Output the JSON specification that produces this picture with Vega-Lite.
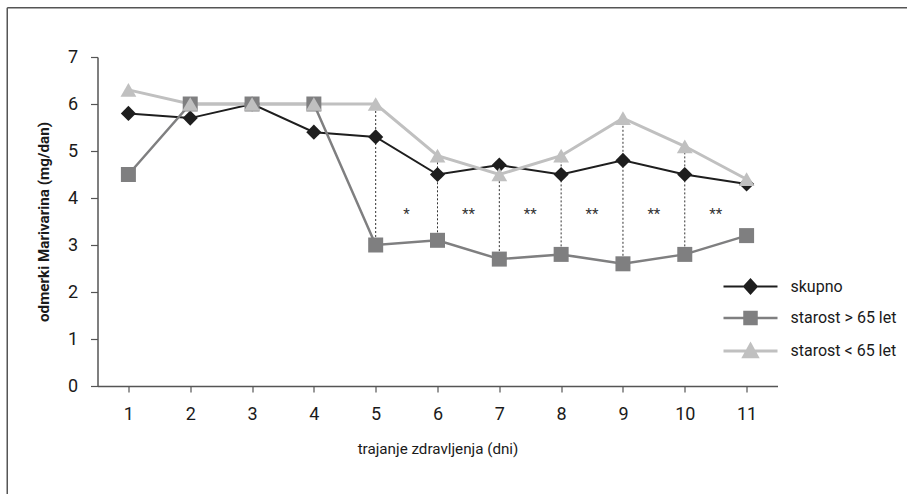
{
  "$schema": "https://vega.github.io/schema/vega-lite/v6.json",
  "width": 680,
  "height": 329,
  "autosize": {"type": "none"},
  "padding": {"left": 97.5, "top": 57, "right": 129.5, "bottom": 108},
  "background": "white",
  "config": {
    "view": {"stroke": null},
    "font": "Roboto",
    "axis": {
      "grid": false,
      "domainColor": "#555555",
      "domainWidth": 1.5,
      "tickColor": "#555555",
      "tickWidth": 1.2,
      "labelColor": "#1a1a1a",
      "titleColor": "#1a1a1a",
      "labelFont": "Roboto",
      "titleFont": "Roboto"
    }
  },
  "datasets": {
    "main": [
      {"day": 1, "series": "skupno", "value": 5.8},
      {"day": 2, "series": "skupno", "value": 5.7},
      {"day": 3, "series": "skupno", "value": 6.0},
      {"day": 4, "series": "skupno", "value": 5.4},
      {"day": 5, "series": "skupno", "value": 5.3},
      {"day": 6, "series": "skupno", "value": 4.5},
      {"day": 7, "series": "skupno", "value": 4.7},
      {"day": 8, "series": "skupno", "value": 4.5},
      {"day": 9, "series": "skupno", "value": 4.8},
      {"day": 10, "series": "skupno", "value": 4.5},
      {"day": 11, "series": "skupno", "value": 4.3},
      {"day": 1, "series": "starost > 65 let", "value": 4.5},
      {"day": 2, "series": "starost > 65 let", "value": 6.0},
      {"day": 3, "series": "starost > 65 let", "value": 6.0},
      {"day": 4, "series": "starost > 65 let", "value": 6.0},
      {"day": 5, "series": "starost > 65 let", "value": 3.0},
      {"day": 6, "series": "starost > 65 let", "value": 3.1},
      {"day": 7, "series": "starost > 65 let", "value": 2.7},
      {"day": 8, "series": "starost > 65 let", "value": 2.8},
      {"day": 9, "series": "starost > 65 let", "value": 2.6},
      {"day": 10, "series": "starost > 65 let", "value": 2.8},
      {"day": 11, "series": "starost > 65 let", "value": 3.2},
      {"day": 1, "series": "starost < 65 let", "value": 6.3},
      {"day": 2, "series": "starost < 65 let", "value": 6.0},
      {"day": 3, "series": "starost < 65 let", "value": 6.0},
      {"day": 4, "series": "starost < 65 let", "value": 6.0},
      {"day": 5, "series": "starost < 65 let", "value": 6.0},
      {"day": 6, "series": "starost < 65 let", "value": 4.9},
      {"day": 7, "series": "starost < 65 let", "value": 4.5},
      {"day": 8, "series": "starost < 65 let", "value": 4.9},
      {"day": 9, "series": "starost < 65 let", "value": 5.7},
      {"day": 10, "series": "starost < 65 let", "value": 5.1},
      {"day": 11, "series": "starost < 65 let", "value": 4.4}
    ],
    "stars": [
      {"pos": 5.5, "level": 3.66, "mark": "*"},
      {"pos": 6.5, "level": 3.66, "mark": "**"},
      {"pos": 7.5, "level": 3.66, "mark": "**"},
      {"pos": 8.5, "level": 3.66, "mark": "**"},
      {"pos": 9.5, "level": 3.66, "mark": "**"},
      {"pos": 10.5, "level": 3.66, "mark": "**"}
    ],
    "frame": [{"left": -0.96, "right": 13.6, "top": 8.05, "bottom": -2.3}]
  },
  "encoding": {
    "x": {
      "type": "quantitative",
      "scale": {"domain": [0.5, 11.5], "nice": false, "zero": false}
    },
    "y": {
      "type": "quantitative",
      "scale": {"domain": [0, 7], "nice": false}
    }
  },
  "layer": [
    {
      "data": {"name": "frame"},
      "mark": {"type": "rule", "color": "#555555", "strokeWidth": 1.5, "clip": false},
      "encoding": {
        "x": {"field": "left", "type": "quantitative"},
        "x2": {"field": "right"},
        "y": {"field": "top", "type": "quantitative"}
      }
    },
    {
      "data": {"name": "frame"},
      "mark": {"type": "rule", "color": "#555555", "strokeWidth": 1.5, "clip": false},
      "encoding": {
        "x": {"field": "left", "type": "quantitative"},
        "y": {"field": "top", "type": "quantitative"},
        "y2": {"field": "bottom"}
      }
    },
    {
      "data": {"name": "main"},
      "transform": [
        {"pivot": "series", "value": "value", "groupby": ["day"]},
        {"filter": "datum.day >= 5 && datum.day <= 10"}
      ],
      "mark": {"type": "rule", "color": "#333333", "strokeWidth": 1, "strokeDash": [2, 2]},
      "encoding": {
        "x": {"field": "day", "type": "quantitative"},
        "y": {"field": "starost > 65 let", "type": "quantitative"},
        "y2": {"field": "starost < 65 let"}
      }
    },
    {
      "data": {"name": "stars"},
      "mark": {"type": "text", "fontSize": 15, "color": "#333333", "font": "Roboto", "baseline": "middle"},
      "encoding": {
        "x": {"field": "pos", "type": "quantitative"},
        "y": {"field": "level", "type": "quantitative"},
        "text": {"field": "mark"}
      }
    },
    {
      "data": {"name": "main"},
      "mark": {"type": "line"},
      "encoding": {
        "x": {
          "field": "day",
          "type": "quantitative",
          "axis": {
            "values": [1, 2, 3, 4, 5, 6, 7, 8, 9, 10, 11],
            "format": "d",
            "title": "trajanje zdravljenja (dni)",
            "labelFontSize": 18,
            "labelPadding": 13,
            "tickSize": 6,
            "titleFontSize": 15.2,
            "titleFontWeight": "normal",
            "titlePadding": 18
          }
        },
        "y": {
          "field": "value",
          "type": "quantitative",
          "axis": {
            "values": [0, 1, 2, 3, 4, 5, 6, 7],
            "title": "odmerki Marivarina (mg/dan)",
            "labelFontSize": 18,
            "labelPadding": 13,
            "tickSize": 7,
            "titleFontSize": 15.2,
            "titleFontWeight": "bold",
            "titlePadding": 16
          }
        },
        "color": {
          "field": "series",
          "type": "nominal",
          "scale": {
            "domain": ["skupno", "starost > 65 let", "starost < 65 let"],
            "range": ["#1e1e1e", "#7f7f80", "#c0c0c0"]
          }
        },
        "strokeWidth": {
          "field": "series",
          "type": "nominal",
          "scale": {
            "domain": ["skupno", "starost > 65 let", "starost < 65 let"],
            "range": [2, 3, 3]
          },
          "legend": null
        }
      }
    },
    {
      "data": {"name": "main"},
      "mark": {"type": "point", "filled": true, "opacity": 0},
      "encoding": {
        "x": {"field": "day", "type": "quantitative"},
        "y": {"field": "value", "type": "quantitative"},
        "color": {
          "field": "series",
          "type": "nominal",
          "legend": {
            "title": null,
            "orient": "none",
            "legendX": 644,
            "legendY": 221,
            "padding": 0,
            "symbolSize": 225,
            "symbolStrokeWidth": 2.5,
            "symbolOpacity": 1,
            "labelOffset": 31,
            "labelFontSize": 16,
            "labelColor": "#1a1a1a",
            "labelFont": "Roboto",
            "rowPadding": 9
          }
        },
        "shape": {
          "field": "series",
          "type": "nominal",
          "scale": {
            "domain": ["skupno", "starost > 65 let", "starost < 65 let"],
            "range": [
              "M-3.6,0H3.6M-0.85,0L0,-0.95L0.85,0L0,0.95ZM-0.62,0L0,-0.7L0.62,0L0,0.7ZM-0.4,0L0,-0.45L0.4,0L0,0.45ZM-0.18,0L0,-0.2L0.18,0L0,0.2Z",
              "M-3.6,0H3.6M-0.8,-0.8H0.8V0.8H-0.8ZM-0.58,-0.58H0.58V0.58H-0.58ZM-0.36,-0.36H0.36V0.36H-0.36ZM-0.14,-0.14H0.14V0.14H-0.14Z",
              "M-3.6,0H3.6M0,-0.86L0.89,0.755L-0.89,0.755ZM0,-0.569L0.651,0.61L-0.651,0.61ZM0,-0.29L0.42,0.47L-0.42,0.47ZM0,-0.011L0.189,0.331L-0.189,0.331Z"
            ]
          }
        }
      }
    },
    {
      "data": {"name": "main"},
      "transform": [{"filter": "datum.series === 'skupno'"}],
      "mark": {"type": "point", "filled": true, "opacity": 1, "size": 230, "shape": "diamond"},
      "encoding": {
        "x": {"field": "day", "type": "quantitative"},
        "y": {"field": "value", "type": "quantitative"},
        "color": {"field": "series", "type": "nominal", "legend": null}
      }
    },
    {
      "data": {"name": "main"},
      "transform": [{"filter": "datum.series === 'starost > 65 let'"}],
      "mark": {"type": "point", "filled": true, "opacity": 1, "size": 225, "shape": "square"},
      "encoding": {
        "x": {"field": "day", "type": "quantitative"},
        "y": {"field": "value", "type": "quantitative"},
        "color": {"field": "series", "type": "nominal", "legend": null}
      }
    },
    {
      "data": {"name": "main"},
      "transform": [{"filter": "datum.series === 'starost < 65 let'"}],
      "mark": {"type": "point", "filled": true, "opacity": 1, "size": 250, "shape": "triangle-up"},
      "encoding": {
        "x": {"field": "day", "type": "quantitative"},
        "y": {"field": "value", "type": "quantitative"},
        "color": {"field": "series", "type": "nominal", "legend": null}
      }
    }
  ]
}
